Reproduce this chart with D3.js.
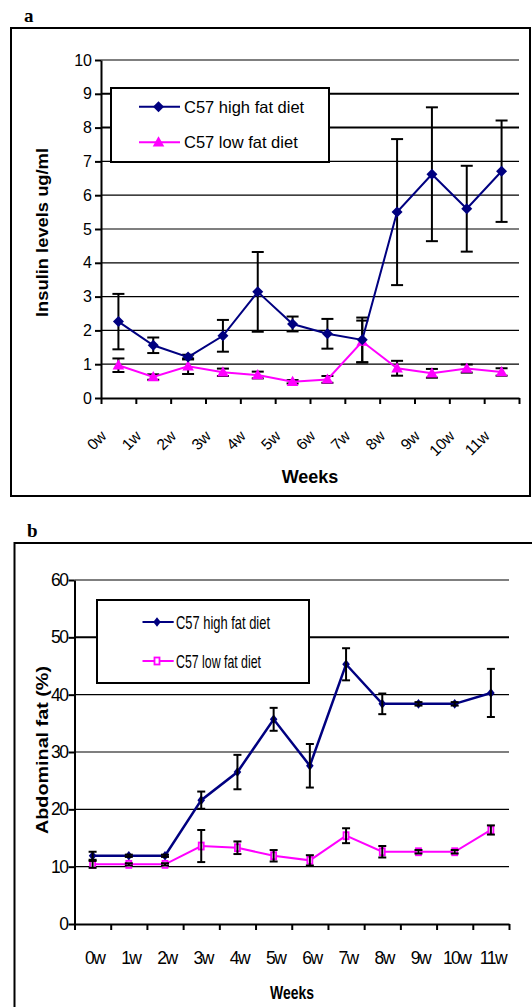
<!DOCTYPE html>
<html>
<head>
<meta charset="utf-8">
<script src="https://cdn.jsdelivr.net/npm/d3@7"></script>
<style>
  body { margin: 0; background: #fff; }
  svg { display: block; }
</style>
</head>
<body>
<div class="chart"></div>
<script>
// categories
const weeks = ['0w', '1w', '2w', '3w', '4w', '5w', '6w', '7w', '8w', '9w', '10w', '11w'];

// panel a: insulin levels (ug/ml)
const insulinHigh    = [2.26, 1.56, 1.21, 1.84, 3.14, 2.19, 1.90, 1.72, 5.50, 6.62, 5.60, 6.71];
const insulinHighErr = [0.82, 0.23, 0.07, 0.47, 1.18, 0.22, 0.44, 0.66, 2.16, 1.98, 1.27, 1.50];
const insulinLow     = [0.97, 0.62, 0.94, 0.76, 0.68, 0.48, 0.55, 1.67, 0.88, 0.73, 0.87, 0.77];
const insulinLowErr  = [0.20, 0.08, 0.23, 0.11, 0.10, 0.05, 0.10, 0.62, 0.22, 0.13, 0.12, 0.11];
const insulinTicks = [0, 1, 2, 3, 4, 5, 6, 7, 8, 9, 10];

// panel b: abdominal fat (%)
const fatHigh    = [11.9, 11.9, 11.9, 21.6, 26.5, 35.7, 27.6, 45.3, 38.4, 38.4, 38.4, 40.3];
const fatHighErr = [0.7, 0.2, 0.2, 1.5, 3.0, 2.0, 3.8, 2.8, 1.8, 0.3, 0.3, 4.2];
const fatLow     = [10.4, 10.4, 10.4, 13.6, 13.3, 11.9, 11.1, 15.4, 12.6, 12.6, 12.6, 16.4];
const fatLowErr  = [0.6, 0.2, 0.2, 2.8, 1.1, 1.0, 0.9, 1.3, 1.0, 0.3, 0.3, 0.8];
const fatTicks = [0, 10, 20, 30, 40, 50, 60];

const seriesNames = ['C57 high fat diet', 'C57 low fat diet'];

const navy = '#000080';
const pink = '#ff00ff';

const svg = d3.select('.chart')
    .append('svg')
    .attr('width', 532)
    .attr('height', 1007);

// marker shapes
function diamond(rx, ry) {
    return `M0,${-ry}L${rx},0L0,${ry}L${-rx},0Z`;
}
function triangle() {
    return 'M0,-6L5.8,4.2L-5.8,4.2Z';
}

// ---------- panel a ----------
{
    const g = svg.append('g');
    g.append('text').text('a')
        .attr('x', 24).attr('y', 22)
        .attr('font-family', 'Liberation Serif, serif')
        .attr('font-weight', 'bold')
        .attr('font-size', '19px');
    g.append('rect')
        .attr('x', 11).attr('y', 28)
        .attr('width', 519).attr('height', 468)
        .attr('fill', 'none').attr('stroke', '#000').attr('stroke-width', 2);

    const x = d3.scaleBand().domain(weeks).range([101, 519]);
    const xTicks = d3.scaleLinear().domain([0, weeks.length]).range([101, 519]);
    const y = d3.scaleLinear().domain([0, 10]).range([398, 60]);

    // gridlines
    g.selectAll('.grid')
        .data(insulinTicks.filter(d => d > 0))
        .enter()
        .append('line')
        .attr('x1', 101).attr('x2', 519)
        .attr('y1', d => y(d)).attr('y2', d => y(d))
        .attr('stroke', '#000')
        .attr('stroke-width', d => (d === 8 || d === 9) ? 2 : 1.2);

    // y axis
    const yAxis = g.append('g')
        .attr('transform', 'translate(101,0)')
        .call(d3.axisLeft(y).tickValues(insulinTicks).tickSize(6).tickSizeOuter(0).tickPadding(3));
    yAxis.select('.domain').attr('stroke-width', 2);
    yAxis.selectAll('line').attr('stroke-width', 2);
    yAxis.selectAll('text')
        .attr('font-family', 'Liberation Sans, Arial, sans-serif')
        .attr('font-size', '16px')
        .attr('fill', '#000');

    // x axis
    const xAxis = g.append('g')
        .attr('transform', 'translate(0,398)')
        .call(d3.axisBottom(xTicks).tickValues(d3.range(weeks.length + 1)).tickFormat('').tickSize(6).tickSizeOuter(0));
    xAxis.select('.domain').attr('stroke-width', 2);
    xAxis.selectAll('line').attr('stroke-width', 2);

    g.selectAll('.xlab')
        .data(weeks)
        .enter()
        .append('text')
        .text(d => d)
        .attr('transform', d => `translate(${x(d) + x.bandwidth() / 2 - 11},437) rotate(-45)`)
        .attr('text-anchor', 'end')
        .attr('font-family', 'Liberation Sans, Arial, sans-serif')
        .attr('font-size', '15.5px');

    g.append('text').text('Weeks')
        .attr('x', 310).attr('y', 483)
        .attr('text-anchor', 'middle')
        .attr('font-family', 'Liberation Sans, Arial, sans-serif')
        .attr('font-weight', 'bold')
        .attr('font-size', '18px');

    g.append('text').text('Insulin levels ug/ml')
        .attr('transform', 'translate(48,232.5) rotate(-90)')
        .attr('text-anchor', 'middle')
        .attr('textLength', 169)
        .attr('lengthAdjust', 'spacingAndGlyphs')
        .attr('font-family', 'Liberation Sans, Arial, sans-serif')
        .attr('font-weight', 'bold')
        .attr('font-size', '17px');

    const cx = i => x(weeks[i]) + x.bandwidth() / 2;

    // error bars
    const bars = [
        { v: insulinHigh, e: insulinHighErr },
        { v: insulinLow, e: insulinLowErr }
    ];
    bars.forEach(s => {
        const eb = g.append('g').attr('stroke', '#000').attr('stroke-width', 2);
        s.v.forEach((v, i) => {
            eb.append('line').attr('x1', cx(i)).attr('x2', cx(i))
                .attr('y1', y(v - s.e[i])).attr('y2', y(v + s.e[i]));
            eb.append('line').attr('x1', cx(i) - 6).attr('x2', cx(i) + 6)
                .attr('y1', y(v - s.e[i])).attr('y2', y(v - s.e[i]));
            eb.append('line').attr('x1', cx(i) - 6).attr('x2', cx(i) + 6)
                .attr('y1', y(v + s.e[i])).attr('y2', y(v + s.e[i]));
        });
    });

    const line = d3.line().x((d, i) => cx(i)).y(d => y(d));
    g.append('path').datum(insulinLow).attr('d', line)
        .attr('fill', 'none').attr('stroke', pink).attr('stroke-width', 2);
    g.append('path').datum(insulinHigh).attr('d', line)
        .attr('fill', 'none').attr('stroke', navy).attr('stroke-width', 2);

    g.selectAll('.mlow')
        .data(insulinLow)
        .enter()
        .append('path')
        .attr('d', triangle())
        .attr('transform', (d, i) => `translate(${cx(i)},${y(d)})`)
        .attr('fill', pink);
    g.selectAll('.mhigh')
        .data(insulinHigh)
        .enter()
        .append('path')
        .attr('d', diamond(5.5, 5.5))
        .attr('transform', (d, i) => `translate(${cx(i)},${y(d)})`)
        .attr('fill', navy);

    // legend
    const lg = g.append('g');
    lg.append('rect')
        .attr('x', 111).attr('y', 88)
        .attr('width', 218).attr('height', 74)
        .attr('fill', '#fff').attr('stroke', '#000').attr('stroke-width', 2);
    const rows = [106.7, 142.3];
    const colors = [navy, pink];
    rows.forEach((ry, k) => {
        lg.append('line').attr('x1', 139).attr('x2', 180)
            .attr('y1', ry).attr('y2', ry)
            .attr('stroke', colors[k]).attr('stroke-width', 2);
        lg.append('path')
            .attr('d', k === 0 ? diamond(5.5, 5.5) : triangle())
            .attr('transform', `translate(158.5,${ry})`)
            .attr('fill', colors[k]);
        lg.append('text').text(seriesNames[k])
            .attr('x', 184).attr('y', ry + 6)
            .attr('font-family', 'Liberation Sans, Arial, sans-serif')
            .attr('font-size', '16.5px');
    });
}

// ---------- panel b ----------
{
    const g = svg.append('g');
    g.append('text').text('b')
        .attr('x', 27).attr('y', 537)
        .attr('font-family', 'Liberation Serif, serif')
        .attr('font-weight', 'bold')
        .attr('font-size', '19px');
    g.append('rect')
        .attr('x', 14.5).attr('y', 543)
        .attr('width', 540).attr('height', 500)
        .attr('fill', 'none').attr('stroke', '#000').attr('stroke-width', 2);

    const x = d3.scaleBand().domain(weeks).range([74.5, 509]);
    const xTicks = d3.scaleLinear().domain([0, weeks.length]).range([74.5, 509]);
    const y = d3.scaleLinear().domain([0, 60]).range([924, 580]);

    g.selectAll('.grid')
        .data(fatTicks.filter(d => d > 0))
        .enter()
        .append('line')
        .attr('x1', 74.5).attr('x2', 509)
        .attr('y1', d => y(d)).attr('y2', d => y(d))
        .attr('stroke', '#000')
        .attr('stroke-width', d => d === 50 ? 2 : 1.2);

    const yAxis = g.append('g')
        .attr('transform', 'translate(74.5,0)')
        .call(d3.axisLeft(y).tickValues(fatTicks).tickSize(6).tickSizeOuter(0).tickPadding(1));
    yAxis.select('.domain').attr('stroke-width', 2);
    yAxis.selectAll('line').attr('stroke-width', 2);
    yAxis.selectAll('text')
        .attr('font-family', 'Liberation Sans, Arial, sans-serif')
        .attr('font-size', '17.5px')
        .attr('letter-spacing', '-1.5px')
        .attr('fill', '#000');

    const xAxis = g.append('g')
        .attr('transform', 'translate(0,924)')
        .call(d3.axisBottom(xTicks).tickValues(d3.range(weeks.length + 1)).tickFormat('').tickSize(6).tickSizeOuter(0));
    xAxis.select('.domain').attr('stroke-width', 2);
    xAxis.selectAll('line').attr('stroke-width', 2);

    g.selectAll('.xlab')
        .data(weeks)
        .enter()
        .append('text')
        .text(d => d)
        .attr('x', d => x(d) + x.bandwidth() / 2 + 2)
        .attr('y', 964)
        .attr('text-anchor', 'middle')
        .attr('letter-spacing', '-1.5px')
        .attr('font-family', 'Liberation Sans, Arial, sans-serif')
        .attr('font-size', '17.5px');

    g.append('text').text('Weeks')
        .attr('x', 292).attr('y', 999)
        .attr('text-anchor', 'middle')
        .attr('textLength', 44)
        .attr('lengthAdjust', 'spacingAndGlyphs')
        .attr('font-family', 'Liberation Sans, Arial, sans-serif')
        .attr('font-weight', 'bold')
        .attr('font-size', '18px');

    g.append('text').text('Abdominal fat (%)')
        .attr('transform', 'translate(48,750) rotate(-90)')
        .attr('text-anchor', 'middle')
        .attr('textLength', 168)
        .attr('lengthAdjust', 'spacingAndGlyphs')
        .attr('font-family', 'Liberation Sans, Arial, sans-serif')
        .attr('font-weight', 'bold')
        .attr('font-size', '16.5px');

    const cx = i => x(weeks[i]) + x.bandwidth() / 2;

    const line = d3.line().x((d, i) => cx(i)).y(d => y(d));
    g.append('path').datum(fatLow).attr('d', line)
        .attr('fill', 'none').attr('stroke', pink).attr('stroke-width', 2);
    g.append('path').datum(fatHigh).attr('d', line)
        .attr('fill', 'none').attr('stroke', navy).attr('stroke-width', 2.5);

    g.selectAll('.mhigh')
        .data(fatHigh)
        .enter()
        .append('path')
        .attr('d', diamond(3.8, 4.8))
        .attr('transform', (d, i) => `translate(${cx(i)},${y(d)})`)
        .attr('fill', navy);
    g.selectAll('.mlow')
        .data(fatLow)
        .enter()
        .append('rect')
        .attr('x', (d, i) => cx(i) - 2.5)
        .attr('y', d => y(d) - 3.5)
        .attr('width', 5).attr('height', 7)
        .attr('fill', '#fff')
        .attr('stroke', pink).attr('stroke-width', 1.8);

    const bars = [
        { v: fatHigh, e: fatHighErr },
        { v: fatLow, e: fatLowErr }
    ];
    bars.forEach(s => {
        const eb = g.append('g').attr('stroke', '#000').attr('stroke-width', 2);
        s.v.forEach((v, i) => {
            eb.append('line').attr('x1', cx(i)).attr('x2', cx(i))
                .attr('y1', y(v - s.e[i])).attr('y2', y(v + s.e[i]));
            eb.append('line').attr('x1', cx(i) - 4).attr('x2', cx(i) + 4)
                .attr('y1', y(v - s.e[i])).attr('y2', y(v - s.e[i]));
            eb.append('line').attr('x1', cx(i) - 4).attr('x2', cx(i) + 4)
                .attr('y1', y(v + s.e[i])).attr('y2', y(v + s.e[i]));
        });
    });

    const lg = g.append('g');
    lg.append('rect')
        .attr('x', 97).attr('y', 600)
        .attr('width', 212).attr('height', 83)
        .attr('fill', '#fff').attr('stroke', '#000').attr('stroke-width', 2);
    const rows = [622, 661];
    const colors = [navy, pink];
    const lens = [94, 85];
    rows.forEach((ry, k) => {
        lg.append('line').attr('x1', 142.5).attr('x2', 173.7)
            .attr('y1', ry).attr('y2', ry)
            .attr('stroke', colors[k]).attr('stroke-width', 2);
        if (k === 0) {
            lg.append('path')
                .attr('d', diamond(3.8, 4.8))
                .attr('transform', `translate(157,${ry})`)
                .attr('fill', navy);
        } else {
            lg.append('rect')
                .attr('x', 154.5).attr('y', ry - 3.5)
                .attr('width', 5).attr('height', 7)
                .attr('fill', '#fff')
                .attr('stroke', pink).attr('stroke-width', 1.8);
        }
        lg.append('text').text(seriesNames[k])
            .attr('x', 176).attr('y', ry + 6.5)
            .attr('textLength', lens[k])
            .attr('lengthAdjust', 'spacingAndGlyphs')
            .attr('font-family', 'Liberation Sans, Arial, sans-serif')
            .attr('font-size', '18.5px');
    });
}
</script>
</body>
</html>
